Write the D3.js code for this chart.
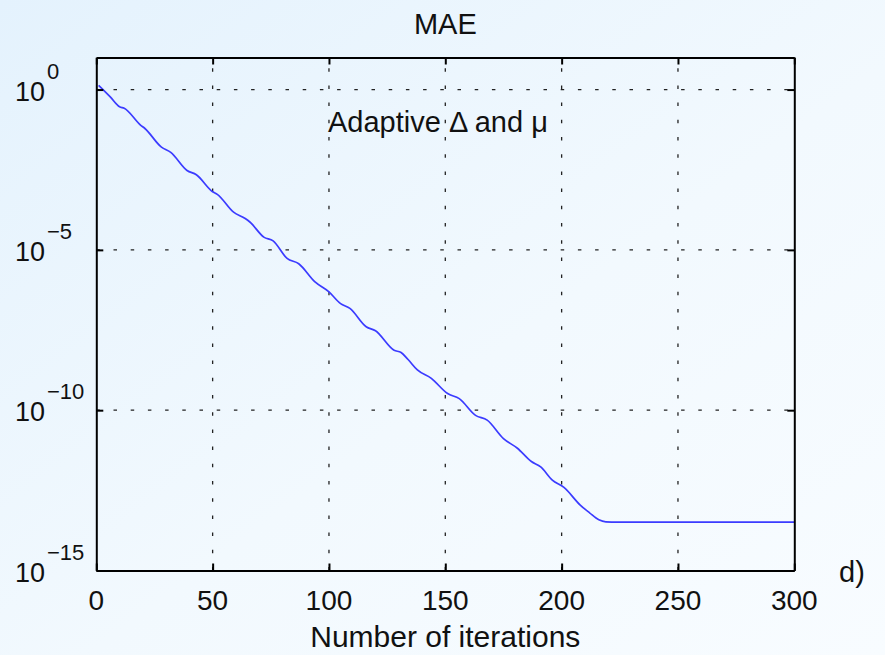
<!DOCTYPE html>
<html>
<head>
<meta charset="utf-8">
<script src="https://cdn.jsdelivr.net/npm/d3@7"></script>
<style>
  html, body { margin: 0; padding: 0; }
  body { width: 885px; height: 655px; overflow: hidden; }
  svg text { font-family: "Liberation Sans", Arial, Helvetica, sans-serif; fill: #111; }
</style>
</head>
<body>
<svg id="chart" width="885" height="655"></svg>
<script>
// Iteration number and mean absolute error for the adaptive Δ / μ run
const iterations = [1, 6, 10, 12, 19, 21, 28, 32, 39, 43, 50, 52, 59, 64, 66, 72, 76, 82, 87, 94,
  100, 105, 109, 116, 120, 128, 131, 134, 138, 144, 151, 156, 163, 168, 175, 181, 187, 191, 196,
  201, 208, 212, 216, 219, 224, 300];
const maeValues = [1.35, 5.9e-1, 2.9e-1, 2.6e-1, 7.8e-2, 6.0e-2, 1.6e-2, 1.1e-2, 3.0e-3, 2.2e-3,
  6.5e-4, 5.4e-4, 1.5e-4, 9.5e-5, 7.4e-5, 2.5e-5, 1.9e-5, 5.4e-6, 3.7e-6, 1.0e-6,
  4.9e-7, 2.1e-7, 1.5e-7, 4.0e-8, 3.0e-8, 7.4e-9, 6.3e-9, 3.8e-9, 1.8e-9, 9.8e-10,
  3.3e-10, 2.3e-10, 6.9e-11, 4.9e-11, 1.3e-11, 6.5e-12, 2.5e-12, 1.7e-12, 6.6e-13,
  3.9e-13, 1.1e-13, 6.3e-14, 3.8e-14, 3.3e-14, 3.24e-14, 3.24e-14];

const xTicks = [0, 50, 100, 150, 200, 250, 300];
const yTickExponents = [0, -5, -10, -15];
const yTicks = yTickExponents.map(e => Math.pow(10, e));

const titleText = "MAE";
const xLabelText = "Number of iterations";
const annotationText = "Adaptive Δ and μ";
const panelTag = "d)";

const svg = d3.select("#chart");
const W = 885, H = 655;

// soft blue page background
const defs = svg.append("defs");
const grad = defs.append("linearGradient").attr("id", "bg")
  .attr("x1", "0%").attr("y1", "0%").attr("x2", "100%").attr("y2", "100%");
grad.append("stop").attr("offset", "0%").attr("stop-color", "#e4f2fd");
grad.append("stop").attr("offset", "55%").attr("stop-color", "#f2f9fe");
grad.append("stop").attr("offset", "100%").attr("stop-color", "#f8fcff");
svg.append("rect").attr("width", W).attr("height", H).attr("fill", "url(#bg)");

const plotLeft = 96.3, plotRight = 794.3, plotTop = 57.5, plotBottom = 570.5;

const x = d3.scaleLinear().domain([0, 300]).range([plotLeft, plotRight]);
const y = d3.scaleLog().domain([1e-15, 10]).range([plotBottom, plotTop]);

// dotted grid
const grid = svg.append("g")
  .attr("stroke", "#222").attr("stroke-width", 1.3).attr("stroke-dasharray", "3.5,13.7");
grid.selectAll("line.vg").data(xTicks.slice(1, -1)).join("line")
  .attr("x1", d => x(d)).attr("x2", d => x(d))
  .attr("y1", plotBottom).attr("y2", plotTop);
grid.selectAll("line.hg").data(yTicks.slice(0, -1)).join("line")
  .attr("x1", plotLeft).attr("x2", plotRight)
  .attr("y1", d => y(d)).attr("y2", d => y(d));

// data line
const pts = iterations.map((it, i) => [it, maeValues[i]]);
const line = d3.line().x(d => x(d[0])).y(d => y(d[1])).curve(d3.curveMonotoneX);
svg.append("path").datum(pts)
  .attr("d", line)
  .attr("fill", "none")
  .attr("stroke", "#3b3bff")
  .attr("stroke-width", 1.7)
  .attr("stroke-linejoin", "round");

// axes with inward ticks on all four sides
const tickLen = 7;
const axBottom = d3.axisBottom(x).tickValues(xTicks).tickSizeInner(-tickLen).tickSizeOuter(0).tickFormat("");
const axTop = d3.axisTop(x).tickValues(xTicks).tickSizeInner(-tickLen).tickSizeOuter(0).tickFormat("");
const axLeft = d3.axisLeft(y).tickValues(yTicks).tickSizeInner(-tickLen).tickSizeOuter(0).tickFormat("");
const axRight = d3.axisRight(y).tickValues(yTicks).tickSizeInner(-tickLen).tickSizeOuter(0).tickFormat("");

function styleAxis(g) {
  g.selectAll("path.domain").attr("stroke", "#000").attr("stroke-width", 2);
  g.selectAll(".tick line").attr("stroke", "#000").attr("stroke-width", 2);
}
svg.append("g").attr("transform", `translate(0,${plotBottom})`).call(axBottom).call(styleAxis);
svg.append("g").attr("transform", `translate(0,${plotTop})`).call(axTop).call(styleAxis);
svg.append("g").attr("transform", `translate(${plotLeft},0)`).call(axLeft).call(styleAxis);
svg.append("g").attr("transform", `translate(${plotRight},0)`).call(axRight).call(styleAxis);

// x tick labels
svg.append("g").selectAll("text").data(xTicks).join("text")
  .attr("x", d => x(d)).attr("y", 610)
  .attr("text-anchor", "middle")
  .attr("font-size", 28)
  .text(d => d);

// y tick labels as 10 with superscript exponents
const yl = svg.append("g").selectAll("g").data(yTickExponents).join("g")
  .attr("transform", e => `translate(15,${y(Math.pow(10, e))})`);
yl.append("text").attr("x", 0).attr("y", 11).attr("font-size", 27).text("10");
yl.append("text").attr("x", 32).attr("y", -11).attr("font-size", 22)
  .text(e => e < 0 ? "\u2212" + Math.abs(e) : String(e));

// title, axis label, annotation, panel tag
svg.append("text").attr("x", (plotLeft + plotRight) / 2).attr("y", 34)
  .attr("text-anchor", "middle").attr("font-size", 29).text(titleText);
svg.append("text").attr("x", (plotLeft + plotRight) / 2).attr("y", 647)
  .attr("text-anchor", "middle").attr("font-size", 30).text(xLabelText);
svg.append("text").attr("x", 328).attr("y", 132)
  .attr("font-size", 29).text(annotationText);
svg.append("text").attr("x", 839).attr("y", 582)
  .attr("font-size", 29).text(panelTag);
</script>
</body>
</html>
